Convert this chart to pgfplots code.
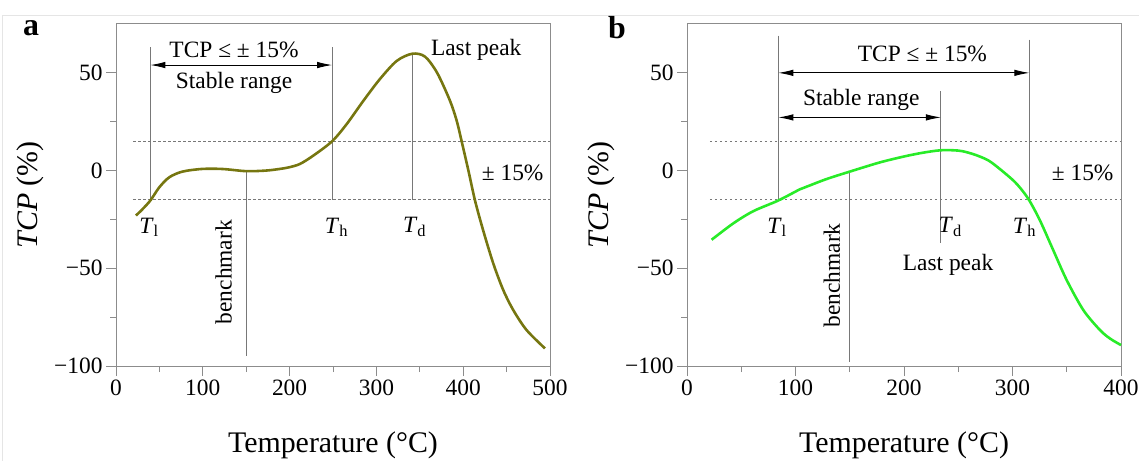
\documentclass[border=0pt]{standalone}
\usepackage{fontspec}
\setmainfont{Liberation Serif}
\usepackage{pgfplots}
\pgfplotsset{compat=1.18}
\usetikzlibrary{arrows.meta}
\definecolor{olivecurve}{RGB}{118,118,16}
\definecolor{greencurve}{RGB}{40,235,40}
\definecolor{axisgray}{RGB}{140,140,140}
\definecolor{linegray}{RGB}{120,120,120}
\newcommand{\annfont}{\fontsize{23.5}{28}\selectfont}
\newcommand{\labfont}{\fontsize{30}{36}\selectfont}

\pgfplotsset{
  panel/.style={
    scale only axis, width=434bp, height=342bp,
    ymin=-100, ymax=75,
    ytick={-100,-50,0,50}, yticklabels={−100,−50,0,50},
    minor y tick num=1, minor x tick num=1,
    tick align=outside, xtick pos=left, ytick pos=left,
    major tick length=10bp, minor tick length=6bp,
    axis line style={axisgray, line width=1pt},
    every tick/.style={axisgray, line width=0.9pt},
    tick label style={font=\annfont, black},
    label style={font=\labfont},
    xlabel style={at={(axis description cs:0.5,-0.254)}, anchor=base},
    ylabel style={at={(axis description cs:-0.18,0.5)}, anchor=base},
    xlabel={Temperature (°C)},
    ylabel={\textit{TCP} (\%)},
    clip=false,
  },
}
\tikzset{
  dline/.style={linegray, line width=0.8pt, dash pattern=on 2.5bp off 2.5bp},
  vline/.style={linegray, line width=0.9pt},
  arr/.style={black, line width=0.9pt, {Latex[length=15bp,width=6.5bp]}-{Latex[length=15bp,width=6.5bp]}},
}

\begin{document}
\begin{tikzpicture}
\path[use as bounding box] (0,0) rectangle (1139bp,461bp);
\draw[gray!20, line width=0.8pt] (2bp,0) -- (2bp,446bp) -- (1139bp,446bp);

\node[font=\fontsize{32}{38}\selectfont\bfseries] at (31bp,433bp) {a};
\node[font=\fontsize{32}{38}\selectfont\bfseries] at (617bp,433bp) {b};

% ---------------- panel a ----------------
\begin{axis}[panel, at={(116bp,95bp)}, anchor=south west,
  xmin=0, xmax=500, xtick={0,100,200,300,400,500},
  xticklabels={0,100,200,300,400,500}]
\draw[dline] (axis cs:20,15) -- (axis cs:500,15);
\draw[dline] (axis cs:20,-15) -- (axis cs:500,-15);
\draw[vline] (axis cs:39.6,63) -- (axis cs:39.6,-15);
\draw[vline] (axis cs:249,63) -- (axis cs:249,-15);
\draw[vline] (axis cs:341.4,60) -- (axis cs:341.4,-15);
\draw[vline] (axis cs:150,0) -- (axis cs:150,-95);
\draw[arr] (axis cs:39.6,54) -- (axis cs:249,54);
\node[font=\annfont] at (axis cs:136,62) {TCP ≤ ± 15\%};
\node[font=\annfont] at (axis cs:136,45) {Stable range};
\node[font=\annfont] at (axis cs:415,62) {Last peak};
\node[font=\annfont] at (axis cs:457,-1.4) {± 15\%};
\node[font=\annfont] at (axis cs:38,-29) {\textit{T}\textsubscript{l}};
\node[font=\annfont] at (axis cs:254,-29) {\textit{T}\textsubscript{h}};
\node[font=\annfont] at (axis cs:344,-29) {\textit{T}\textsubscript{d}};
\node[font=\annfont, rotate=90] at (axis cs:124,-52) {benchmark};
\addplot[olivecurve, line width=2.6pt, smooth] coordinates {
(23,-23) (30,-20) (39.6,-15.3) (50,-8.5) (61.5,-3.4) (76.8,-0.5)
(99.8,0.85) (123,0.8) (150,-0.3) (172.8,0) (189,0.85) (199.7,1.7)
(212,3.4) (227.3,7.65) (249,15) (265.8,23.8) (285,35.7) (304,46.8)
(323.4,56.1) (341.4,59.8) (356,58.3) (370,50) (384.8,35.7)
(392.5,25.5) (398.2,15) (406,0) (413.6,-15.3) (423,-30.6)
(434.7,-47.6) (446.2,-61.2) (457.7,-71.4) (473,-81.6) (494.2,-91)
};
\end{axis}

% ---------------- panel b ----------------
\begin{axis}[panel, at={(687bp,95bp)}, anchor=south west,
  xmin=0, xmax=400, xtick={0,100,200,300,400},
  xticklabels={0,100,200,300,400}]
\draw[dline] (axis cs:21,15) -- (axis cs:400,15);
\draw[dline] (axis cs:21,-15) -- (axis cs:400,-15);
\draw[vline] (axis cs:84.2,69) -- (axis cs:84.2,-15);
\draw[vline] (axis cs:315.5,67) -- (axis cs:315.5,-15);
\draw[vline] (axis cs:234,40.5) -- (axis cs:234,-37);
\draw[vline] (axis cs:150,0) -- (axis cs:150,-98);
\draw[arr] (axis cs:84.2,50) -- (axis cs:315.5,50);
\draw[arr] (axis cs:84.2,27.2) -- (axis cs:234,27.2);
\node[font=\annfont] at (axis cs:217,59.5) {TCP ≤ ± 15\%};
\node[font=\annfont] at (axis cs:160.6,36) {Stable range};
\node[font=\annfont] at (axis cs:240.6,-48.5) {Last peak};
\node[font=\annfont] at (axis cs:364.7,-1.4) {± 15\%};
\node[font=\annfont] at (axis cs:83,-29) {\textit{T}\textsubscript{l}};
\node[font=\annfont] at (axis cs:242.6,-29) {\textit{T}\textsubscript{d}};
\node[font=\annfont] at (axis cs:311,-29) {\textit{T}\textsubscript{h}};
\node[font=\annfont, rotate=90] at (axis cs:133.6,-53.6) {benchmark};
\addplot[greencurve, line width=2.6pt, smooth] coordinates {
(22.7,-35.4) (42.7,-27) (61,-20.8) (84.2,-15.3) (104,-9.6) (110,-8.3)
(128.8,-4.3) (150.2,-0.5) (177.9,4.2) (200,7.2) (214,8.8) (225,9.8)
(234,10.4) (245,10.4) (254,9.9) (266,8) (278,5.1) (289,0.5)
(300.8,-5.1) (308,-9.5) (315.5,-15.3) (325.3,-25.5) (337.6,-40.8)
(350,-56.1) (365.3,-71.4) (380.6,-81.6) (390,-86) (400,-89.3)
};
\end{axis}
\end{tikzpicture}
\end{document}
